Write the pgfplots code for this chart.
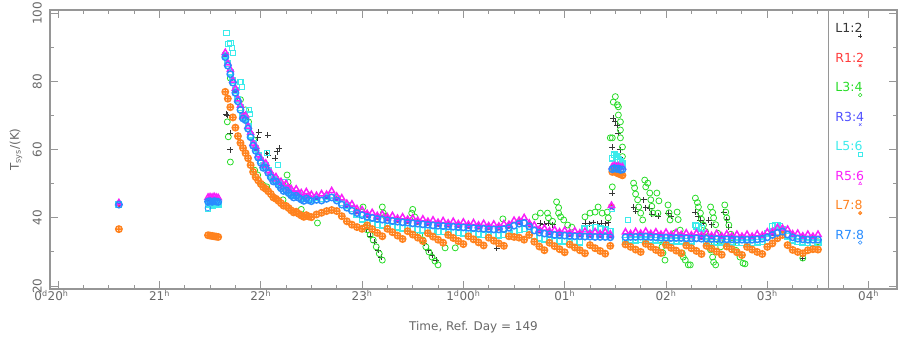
\documentclass[border=0pt]{standalone}
\usepackage{pgfplots}
\pgfplotsset{compat=1.18}
\usepackage{pgfplotstable}
\usetikzlibrary{plotmarks}
\usepackage{fontspec}
\setmainfont{DejaVu Sans}

\definecolor{axgray}{RGB}{150,150,150}
\definecolor{txtgray}{RGB}{105,105,105}
\definecolor{cL12}{RGB}{55,55,55}
\definecolor{cR12}{RGB}{255,60,60}
\definecolor{cL34}{RGB}{40,220,40}
\definecolor{cR34}{RGB}{80,80,255}
\definecolor{cL56}{RGB}{60,235,235}
\definecolor{cR56}{RGB}{250,30,250}
\definecolor{cL78}{RGB}{255,130,30}
\definecolor{cR78}{RGB}{40,140,255}

\pgfplotsset{
  legmark/.style={legend image code/.code={\draw[overlay,##1,mark size=1.8pt,line width=0.5pt] plot coordinates {(-4pt,-8pt)};}},
  pts/.style={only marks, mark size=2.8pt, line width=0.7pt},
  band/.style={only marks, mark size=3.2pt, line width=1.5pt},
}

% main band, t in hours (24 = 1d00h)
\pgfplotstableread{
t L56 R56 L78 R78
21.650 87.8 88.5 77.0 87.2
21.675 85.3 85.4 75.0 84.7
21.700 82.8 83.5 72.5 82.2
21.725 80.3 80.4 69.5 79.7
21.750 77.3 78.0 66.5 76.7
21.775 74.8 74.9 64.0 74.2
21.800 72.3 73.0 62.0 71.7
21.825 69.8 69.9 60.5 69.2
21.850 69.3 70.0 59.0 68.7
21.875 66.8 66.9 57.5 66.2
21.900 64.3 65.0 55.5 63.7
21.925 61.8 61.9 53.5 61.2
21.950 60.3 61.0 52.0 59.7
21.975 58.3 58.4 51.0 57.7
22.000 56.8 57.5 50.0 56.2
22.025 55.3 55.4 49.0 54.7
22.050 55.3 56.0 48.5 54.7
22.075 53.8 53.9 47.8 53.2
22.100 52.5 53.2 47.0 51.9
22.125 51.3 51.4 46.0 50.7
22.150 51.3 52.0 45.6 50.7
22.175 50.3 50.4 45.0 49.7
22.200 49.3 50.6 44.3 48.7
22.225 48.5 49.1 43.6 47.9
22.250 48.7 50.0 43.5 48.1
22.275 47.9 48.5 42.9 47.3
22.300 47.2 48.5 42.2 46.6
22.325 46.6 47.2 41.6 46.0
22.350 47.1 48.4 41.8 46.5
22.375 46.5 47.1 41.2 45.9
22.400 46.0 47.3 40.7 45.4
22.425 45.6 46.2 40.3 45.0
22.450 46.3 47.6 40.8 45.7
22.475 45.8 46.4 40.4 45.2
22.500 45.5 46.8 40.2 44.9
22.550 45.9 46.5 41.0 45.3
22.600 45.7 47.0 41.5 45.1
22.650 46.2 46.8 42.0 45.6
22.700 46.6 47.9 42.3 46.0
22.750 45.7 46.3 42.0 45.1
22.800 44.5 45.8 40.5 43.9
22.850 43.6 44.2 39.0 43.0
22.900 42.7 44.0 38.0 42.1
22.950 41.0 42.6 37.3 41.4
23.000 39.6 42.3 36.8 40.8
23.050 38.6 41.2 37.8 40.3
23.100 38.3 41.5 36.7 40.0
23.150 38.0 40.6 35.6 39.7
23.200 37.8 41.0 34.6 39.5
23.250 37.6 40.2 36.8 39.3
23.300 37.4 40.6 35.8 39.1
23.350 37.2 39.8 34.8 38.9
23.400 37.0 40.2 33.8 38.7
23.450 36.9 39.5 36.1 38.6
23.500 36.7 39.9 35.1 38.4
23.550 36.6 39.2 34.2 38.3
23.600 36.4 39.6 33.2 38.1
23.650 36.3 38.9 35.5 38.0
23.700 36.1 39.3 34.5 37.8
23.750 36.0 38.6 33.6 37.7
23.800 35.9 39.1 32.7 37.6
23.850 35.8 38.4 35.0 37.5
23.900 35.7 38.9 34.1 37.4
23.950 35.6 38.2 33.2 37.3
24.000 35.5 38.7 32.3 37.2
24.050 35.4 38.0 34.6 37.1
24.100 35.3 38.5 33.7 37.0
24.150 35.2 37.8 32.8 36.9
24.200 35.1 38.3 31.9 36.8
24.250 35.0 37.6 34.2 36.7
24.300 34.9 38.1 33.3 36.6
24.350 34.9 37.5 32.5 36.6
24.400 35.0 38.2 31.8 36.7
24.450 35.4 38.0 34.6 37.1
24.500 36.0 39.2 34.4 37.7
24.550 36.6 39.2 34.2 38.3
24.600 36.8 40.0 33.6 38.5
24.650 35.8 38.4 35.0 37.5
24.700 34.6 37.8 33.0 36.3
24.750 34.0 36.6 31.6 35.7
24.800 33.7 36.9 30.5 35.4
24.850 33.5 36.1 32.7 35.2
24.900 33.3 36.5 31.7 35.0
24.950 33.2 35.8 30.8 34.9
25.000 33.1 36.3 29.9 34.8
25.050 33.0 35.6 32.2 34.7
25.100 32.9 36.1 31.3 34.6
25.150 32.9 35.5 30.5 34.6
25.200 36.8 36.0 29.6 34.5
25.250 37.0 35.4 32.0 34.5
25.300 37.2 35.9 31.1 34.4
25.350 36.8 35.3 30.3 34.4
25.400 36.5 35.9 29.5 34.4
25.450 36.0 35.2 31.8 34.3
25.470 57.5 55.0 53.5 54.3
25.490 58.5 55.3 53.8 54.6
25.510 58.0 55.0 53.3 54.4
25.530 57.0 55.2 53.0 54.5
25.550 56.5 54.8 52.8 54.1
25.570 56.0 54.9 52.5 54.2
25.600 33.4 35.8 32.2 34.3
25.650 33.5 35.3 31.5 34.4
25.700 33.5 35.9 30.7 34.4
25.750 33.6 35.4 30.0 34.5
25.800 33.6 36.0 32.4 34.5
25.850 33.5 35.3 31.5 34.4
25.900 33.4 35.8 30.6 34.3
25.950 33.3 35.1 29.7 34.2
26.000 33.3 35.7 32.1 34.2
26.050 33.2 35.0 31.2 34.1
26.100 33.2 35.6 30.4 34.1
26.150 33.2 35.0 29.6 34.1
26.200 33.1 35.5 31.9 34.0
26.250 33.1 34.9 31.1 34.0
26.300 37.6 35.5 30.3 34.0
26.350 37.0 34.8 29.4 33.9
26.400 33.0 35.4 31.8 33.9
26.450 32.9 34.7 31.0 33.8
26.500 32.9 35.3 30.1 33.8
26.550 32.8 34.6 29.2 33.7
26.600 32.8 35.2 31.6 33.7
26.650 32.8 34.6 30.8 33.7
26.700 32.7 35.1 29.9 33.6
26.750 32.7 34.5 29.1 33.6
26.800 32.7 35.1 31.5 33.6
26.850 32.7 34.5 30.7 33.6
26.900 32.8 35.2 30.0 33.7
26.950 33.0 34.8 29.4 33.9
27.000 35.5 35.8 31.5 34.3
27.050 37.5 35.9 32.5 35.0
27.100 37.8 37.1 34.0 35.6
27.150 36.5 36.9 35.0 36.0
27.200 34.6 36.6 32.0 35.1
27.250 33.4 35.2 30.6 34.3
27.300 33.0 35.4 30.0 33.9
27.350 32.8 34.6 29.6 33.7
27.400 32.7 35.1 30.5 33.6
27.450 32.7 34.5 30.8 33.6
27.500 32.7 35.1 30.7 33.6
}\maintab

% isolated early scans
\pgfplotstableread{
t R12 R34 L56 R56 L78 R78
20.60 44.2 44.3 43.8 44.4 36.7 43.9
21.48 45.2 45.0 43.9 46.0 34.9 44.8
21.50 45.3 45.1 44.0 46.1 34.8 44.9
21.52 45.2 45.0 43.6 46.0 34.7 44.7
21.54 45.4 45.2 44.2 46.2 34.6 44.9
21.56 45.3 45.1 43.8 46.0 34.5 44.8
21.58 45.2 45.0 44.0 45.9 34.4 44.7
}\pretab

% R1:2 and R3:4 (mostly under R5:6 and R7:8)
\pgfplotstableread{
t R12 R34
21.65 87.8 87.5
21.75 77.3 77.0
21.85 69.3 69.0
21.95 60.3 60.0
22.05 55.3 55.0
22.15 51.3 51.0
22.25 48.7 48.4
22.35 47.1 46.8
22.45 46.3 46.0
22.55 45.9 45.6
22.65 46.2 45.9
22.75 45.7 45.4
22.85 43.6 43.3
22.95 42.0 41.7
23.05 40.9 40.6
23.15 40.3 40.0
23.25 39.9 39.6
23.35 39.5 39.2
23.45 39.2 38.9
23.55 38.9 38.6
23.65 38.6 38.3
23.75 38.3 38.0
23.85 38.1 37.8
23.95 37.9 37.6
24.05 37.7 37.4
24.15 37.5 37.2
24.25 37.3 37.0
24.35 37.2 36.9
24.45 37.7 37.4
24.55 38.9 38.6
24.65 38.1 37.8
24.75 36.3 36.0
24.85 35.8 35.5
24.95 35.5 35.2
25.05 35.3 35.0
25.15 35.2 34.9
25.25 35.1 34.8
25.35 35.0 34.7
25.45 34.9 34.6
25.462 43.4 43.0
25.50 55.0 54.8
25.65 35.0 34.7
25.75 35.1 34.8
25.85 35.0 34.7
25.95 34.8 34.5
26.05 34.7 34.4
26.15 34.7 34.4
26.25 34.6 34.3
26.35 34.5 34.2
26.45 34.4 34.1
26.55 34.3 34.0
26.65 34.3 34.0
26.75 34.2 33.9
26.85 34.2 33.9
26.95 34.5 34.2
27.05 35.6 35.3
27.15 36.6 36.3
27.25 34.9 34.6
27.35 34.3 34.0
27.45 34.2 33.9
}\rtab

% L1:2
\pgfplotstableread{
t T
20.60 44.1
21.66 70.5
21.67 70.2
21.70 64.9
21.70 60.0
21.97 63.5
21.98 65.2
22.06 59.0
22.07 64.3
22.07 58.5
22.14 57.6
22.16 59.4
22.18 60.5
23.04 36.5
23.08 34.6
23.12 32.8
23.16 30.5
23.19 28.5
23.61 32.5
23.65 30.5
23.69 29.0
23.73 27.5
24.33 31.2
24.76 38.5
24.80 38.2
24.84 38.5
24.88 38.0
25.20 38.5
25.24 38.3
25.28 38.6
25.32 38.2
25.36 38.5
25.40 38.3
25.43 38.6
25.47 47.3
25.47 60.8
25.48 69.3
25.50 68.2
25.52 67.3
25.53 64.9
25.55 60.0
25.57 57.0
25.68 43.2
25.70 42.0
25.78 45.3
25.80 43.0
25.84 42.9
25.86 41.0
25.92 40.5
26.02 41.4
26.05 40.5
26.29 41.7
26.32 40.5
26.34 39.4
26.37 38.5
26.42 39.4
26.45 38.0
26.57 41.7
26.60 39.5
26.62 37.3
27.35 28.2
}\btab

% L3:4
\pgfplotstableread{
t T
21.67 68.2
21.68 63.8
21.70 56.4
21.70 81.0
21.75 77.6
21.80 74.7
21.85 71.7
21.88 68.2
21.93 62.9
21.94 54.0
21.97 52.6
22.02 49.7
22.06 49.1
22.12 46.1
22.22 45.3
22.26 52.6
22.27 50.5
22.40 42.5
22.56 38.5
23.01 43.2
23.03 37.3
23.05 36.5
23.08 35.0
23.11 33.5
23.14 31.5
23.17 29.5
23.20 27.6
23.20 43.2
23.21 41.4
23.23 40.5
23.49 41.4
23.50 42.5
23.52 40.3
23.57 35.0
23.60 33.5
23.63 31.5
23.66 30.0
23.69 28.5
23.72 27.3
23.75 26.2
23.82 31.2
23.92 31.2
24.39 39.7
24.71 40.3
24.76 41.4
24.83 41.4
24.84 40.0
24.88 39.0
24.92 44.7
24.94 41.4
24.94 43.0
24.96 40.3
24.99 39.4
25.03 37.9
25.07 37.3
25.20 40.3
25.25 41.4
25.30 41.7
25.33 43.2
25.37 41.4
25.42 41.7
25.43 40.0
25.45 63.5
25.47 49.1
25.47 63.5
25.48 74.0
25.50 75.6
25.52 73.2
25.53 72.6
25.53 70.2
25.55 68.2
25.55 65.8
25.55 63.5
25.57 60.8
25.57 58.0
25.68 50.2
25.69 48.8
25.70 47.0
25.72 45.3
25.73 43.2
25.75 41.4
25.77 39.4
25.79 51.1
25.80 49.1
25.82 50.2
25.84 47.3
25.85 45.3
25.86 43.4
25.87 41.4
25.91 47.3
25.92 41.4
25.93 45.0
25.94 33.5
25.96 31.5
25.97 29.7
25.99 27.6
26.02 43.8
26.03 41.5
26.04 39.4
26.09 35.6
26.11 41.7
26.12 39.5
26.14 36.4
26.16 29.7
26.17 28.5
26.19 27.6
26.22 26.2
26.24 26.2
26.29 45.8
26.31 44.5
26.32 43.2
26.34 41.4
26.35 39.6
26.37 37.9
26.39 36.0
26.41 34.4
26.42 32.5
26.44 30.6
26.46 28.5
26.47 27.0
26.49 26.2
26.44 43.2
26.46 41.6
26.47 40.0
26.49 38.0
26.51 35.5
26.53 33.0
26.54 31.5
26.58 43.8
26.59 41.7
26.60 40.0
26.62 37.9
26.64 35.2
26.66 32.6
26.69 30.5
26.73 28.5
26.76 26.7
26.78 26.5
27.35 28.2
27.50 33.0
}\gtab

% L5:6 points off the band
\pgfplotstableread{
t T
21.475 42.6
21.660 94.4
21.680 91.0
21.700 91.3
21.715 89.9
21.725 88.4
21.790 80.0
21.800 79.9
21.815 78.4
21.880 71.7
21.890 70.5
22.060 59.0
22.170 55.5
22.240 50.5
25.462 42.6
25.620 39.4
26.290 37.9
26.320 37.5
27.080 37.9
27.120 37.5
}\ctab

\begin{document}
\begin{tikzpicture}
\useasboundingbox (-50pt,-52pt) rectangle (848pt,289pt);
\begin{axis}[
  scale only axis, width=847pt, height=279pt,
  xmin=19.92, xmax=28.28, ymin=19.12, ymax=101.03,
  axis line style={axgray, line width=1.2pt},
  xtick={20,21,...,28},
  xticklabels={\llap{0\textsuperscript{d}}20\textsuperscript{h}, 21\textsuperscript{h}, 22\textsuperscript{h}, 23\textsuperscript{h}, 1\textsuperscript{d}00\textsuperscript{h}, 01\textsuperscript{h}, 02\textsuperscript{h}, 03\textsuperscript{h}, 04\textsuperscript{h}},
  minor x tick num=3,
  ytick={20,40,...,100}, minor y tick num=1,
  tick style={axgray, line width=1pt},
  major tick length=8pt, minor tick length=4pt,
  tick align=inside,
  /pgf/number format/assume math mode=true,
  ticklabel style={font=\fontsize{12}{14}\selectfont, text=txtgray},
  xticklabel style={inner sep=1pt},
  yticklabel style={rotate=90, anchor=south, inner sep=8pt},
  xlabel={Time, Ref. Day = 149},
  ylabel={T\textsubscript{sys}/(K)},
  xlabel style={at={(axis description cs:0.5,-0.136)}, anchor=center, font=\fontsize{12}{14}\selectfont, text=txtgray},
  ylabel style={at={(axis description cs:-0.0401,0.5)}, anchor=center, font=\fontsize{12}{14}\selectfont, text=txtgray},
  legend style={at={(axis cs:27.67,97.1)}, anchor=north west, draw=none, fill=none, inner sep=0pt, row sep=20.5pt, column sep=0pt, font=\fontsize{12.5}{14}\selectfont, nodes={inner sep=0pt, text height=9pt, text depth=0pt}},
  legend plot pos=right,
  legend cell align=left,
]
% L1:2
\addplot[pts, mark=+, mark size=3pt, cL12, legmark] table[x=t, y=T] {\btab};
\addlegendentry{\textcolor{cL12}{L1:2}}
% R1:2
\addplot[band, mark=asterisk, cR12, legmark] table[x=t, y=R12] {\rtab};
\addlegendentry{\textcolor{cR12}{R1:2}}
\addplot[band, mark=asterisk, cR12, forget plot] table[x=t, y=R12] {\pretab};
% L3:4
\addplot[pts, mark=o, mark size=3pt, line width=0.8pt, cL34, legmark] table[x=t, y=T] {\gtab};
\addlegendentry{\textcolor{cL34}{L3:4}}
% R3:4
\addplot[band, mark=x, cR34, legmark] table[x=t, y=R34] {\rtab};
\addlegendentry{\textcolor{cR34}{R3:4}}
\addplot[band, mark=x, cR34, forget plot] table[x=t, y=R34] {\pretab};
% L5:6
\addplot[band, mark=square, mark size=2.8pt, cL56, legmark] table[x=t, y=L56] {\maintab};
\addlegendentry{\textcolor{cL56}{L5:6}}
\addplot[band, mark=square, mark size=2.8pt, cL56, forget plot] table[x=t, y=L56] {\pretab};
\addplot[pts, mark=square, mark size=2.6pt, cL56, forget plot] table[x=t, y=T] {\ctab};
% R5:6
\addplot[band, mark=triangle, mark size=3.5pt, cR56, legmark] table[x=t, y=R56] {\maintab};
\addlegendentry{\textcolor{cR56}{R5:6}}
\addplot[band, mark=triangle, mark size=3.5pt, cR56, forget plot] table[x=t, y=R56] {\pretab};
\addplot[band, mark=triangle, mark size=3.5pt, cR56, forget plot] coordinates {(25.462,43.6)};
% L7:8
\addplot[band, mark=oplus, cL78, legmark] table[x=t, y=L78] {\maintab};
\addlegendentry{\textcolor{cL78}{L7:8}}
\addplot[band, mark=oplus, cL78, forget plot] table[x=t, y=L78] {\pretab};
% R7:8
\addplot[band, mark=o, cR78, legmark] table[x=t, y=R78] {\maintab};
\addlegendentry{\textcolor{cR78}{R7:8}}
\addplot[band, mark=o, cR78, forget plot] table[x=t, y=R78] {\pretab};
\addplot[pts, mark=o, cR78, forget plot] coordinates {(21.478,42.9)};
% separator of the legend panel
\draw[axgray, line width=1.2pt] (axis cs:27.60,19.12) -- (axis cs:27.60,101.03);
\end{axis}
\end{tikzpicture}
\end{document}
